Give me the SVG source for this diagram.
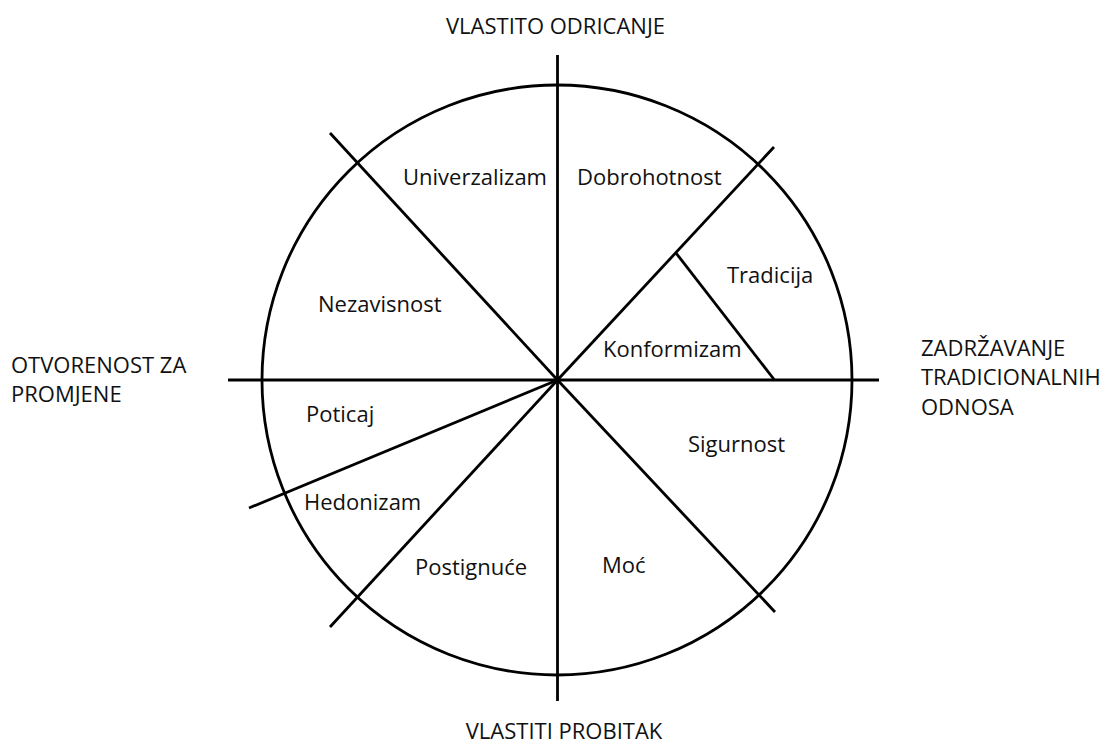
<svg xmlns="http://www.w3.org/2000/svg" width="1109" height="746" viewBox="0 0 1109 746">
<style>
.ln{stroke:#000;stroke-width:2.8;fill:none;stroke-linecap:butt}
text{font-family:"Open Sans","Noto Sans","Liberation Sans",sans-serif;font-size:22px;fill:#111}
</style>
<rect width="1109" height="746" fill="#fff"/>
<g id="wheel">
<circle class="ln" cx="557" cy="380" r="295"/>
</g>
<g id="connectors">
<line class="ln" x1="557.5" y1="55" x2="557.5" y2="701"/>
<line class="ln" x1="228" y1="380" x2="879" y2="380"/>
<line class="ln" x1="557.5" y1="380" x2="330" y2="133"/>
<line class="ln" x1="557.5" y1="380" x2="775" y2="612"/>
<line class="ln" x1="557.5" y1="380" x2="774" y2="147"/>
<line class="ln" x1="557.5" y1="380" x2="330" y2="627"/>
<line class="ln" x1="557.5" y1="380" x2="249" y2="508"/>
<line class="ln" x1="676" y1="253" x2="774.5" y2="380"/>
</g>
<g id="axis-top"><text x="555.5" y="34" text-anchor="middle">VLASTITO ODRICANJE</text></g>
<g id="axis-bottom"><text x="564" y="739" text-anchor="middle">VLASTITI PROBITAK</text></g>
<g id="axis-left"><text x="11" y="373">OTVORENOST ZA</text><text x="11" y="402">PROMJENE</text></g>
<g id="axis-right"><text x="921" y="356">ZADRŽAVANJE</text><text x="921" y="385">TRADICIONALNIH</text><text x="921" y="415">ODNOSA</text></g>
<g id="univerzalizam"><text x="403" y="185">Univerzalizam</text></g>
<g id="dobrohotnost"><text x="577" y="185">Dobrohotnost</text></g>
<g id="tradicija"><text x="727" y="283">Tradicija</text></g>
<g id="konformizam"><text x="603" y="357">Konformizam</text></g>
<g id="nezavisnost"><text x="318" y="312">Nezavisnost</text></g>
<g id="poticaj"><text x="306" y="422">Poticaj</text></g>
<g id="hedonizam"><text x="304" y="510">Hedonizam</text></g>
<g id="postignuce"><text x="415" y="575">Postignuće</text></g>
<g id="moc"><text x="602" y="573">Moć</text></g>
<g id="sigurnost"><text x="688" y="452">Sigurnost</text></g>
</svg>
